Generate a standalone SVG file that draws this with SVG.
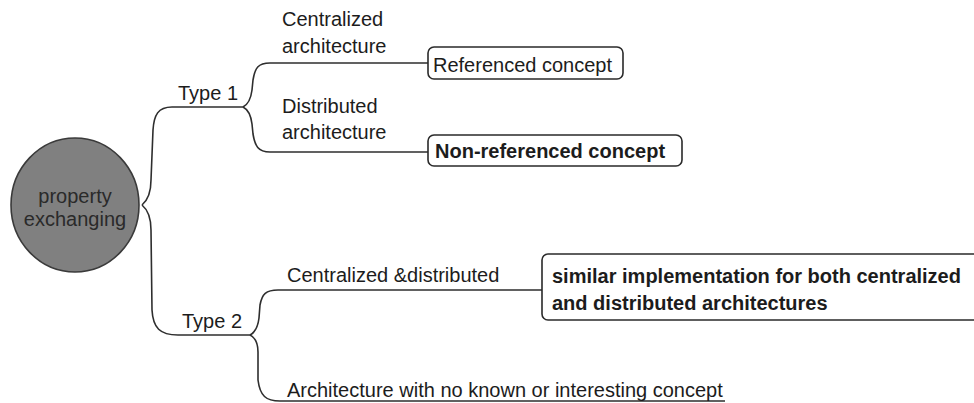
<svg xmlns="http://www.w3.org/2000/svg" width="974" height="403" viewBox="0 0 974 403">
<style>
text{font-family:"Liberation Sans",Arial,sans-serif;font-size:20px;fill:#1c1c1c}
.b{font-weight:bold}
.c{text-anchor:middle;fill:#2a2a2a}
.conn path{fill:none;stroke:#2e2e2e;stroke-width:1.6}
.box{fill:#fff;stroke:#2a2a2a;stroke-width:1.6}
</style>
<rect width="974" height="403" fill="#fff"/>
<g id="connectors" class="conn">
<path d="M142,205 C148,200 151,192 151,180 L153,130 C154,115 158,107 172,107 L243,107"/>
<path d="M142,205 C148,210 151,218 151,230 L152,310 C153,328 160,335 178,335 L250,335"/>
<path d="M243,107 C249,104 251,98 252,90 L253,80 C255,68 258,63 270,63 L428,63"/>
<path d="M243,107 C249,110 251,116 252,124 L253,134 C255,146 258,152 270,152 L428,152"/>
<path d="M250,335 C256,332 258,326 259,318 L260,305 C262,294 266,290 278,290 L542,290"/>
<path d="M250,335 C256,338 258,344 258,352 L258,380 C260,396 266,401 280,401 L725,401"/>
</g>
<g id="root">
<ellipse cx="75" cy="205" rx="64" ry="67" fill="#808080" stroke="#3a3a3a" stroke-width="1.6"/>
<text class="c" x="75" y="203">property</text>
<text class="c" x="75" y="226">exchanging</text>
</g>
<g id="type1"><text x="178" y="100">Type 1</text></g>
<g id="type2"><text x="182" y="328">Type 2</text></g>
<g id="centralized-arch"><text x="282" y="26">Centralized</text><text x="282" y="53">architecture</text></g>
<g id="distributed-arch"><text x="282" y="113">Distributed</text><text x="282" y="139">architecture</text></g>
<g id="centralized-distributed"><text x="287" y="282">Centralized &amp;distributed</text></g>
<g id="no-concept"><text x="287" y="397">Architecture with no known or interesting concept</text></g>
<g id="referenced">
<rect class="box" x="428" y="47" width="195" height="32" rx="6"/>
<text x="433" y="72">Referenced concept</text>
</g>
<g id="non-referenced">
<rect class="box" x="428" y="135" width="254" height="31" rx="6"/>
<text class="b" x="435" y="158">Non-referenced concept</text>
</g>
<g id="similar">
<rect class="box" x="542" y="254" width="445" height="66" rx="6"/>
<text class="b" x="552" y="283">similar implementation for both centralized</text>
<text class="b" x="552" y="310">and distributed architectures</text>
</g>
</svg>
